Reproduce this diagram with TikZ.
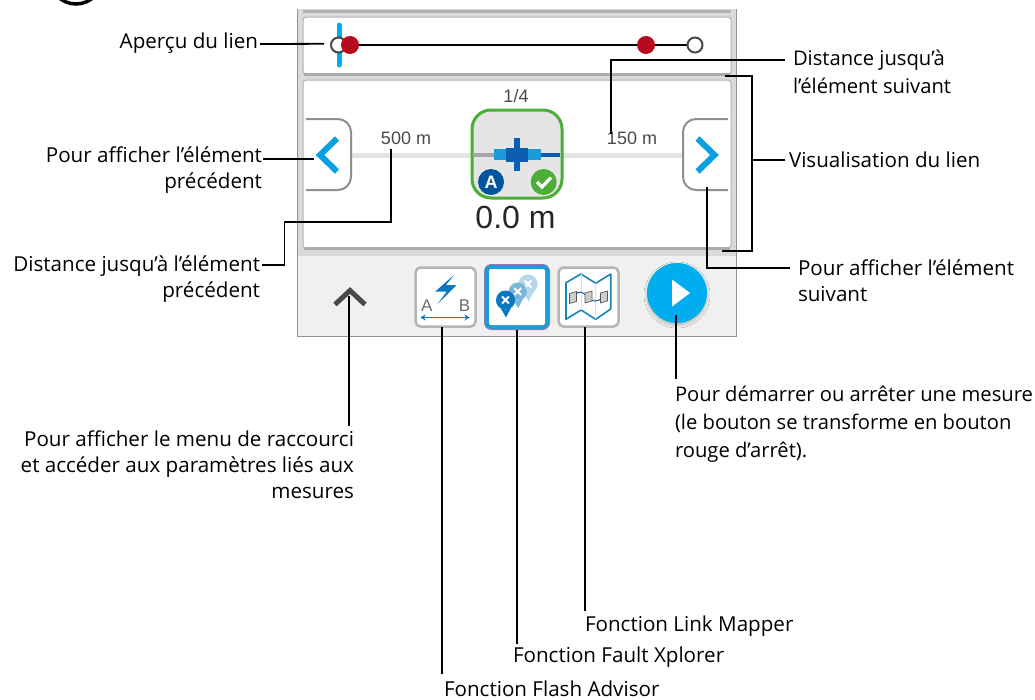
\documentclass[tikz,border=0pt]{standalone}
\usepackage{fontspec}
\setmainfont{Open Sans}
\newfontfamily\uifont{Liberation Sans}
\usetikzlibrary{calc,arrows.meta,shadows.blur}
\definecolor{uiblue}{HTML}{0A9FE0}
\definecolor{playblue}{HTML}{00AEEF}
\definecolor{cardedge}{HTML}{B0B0B0}
\definecolor{panelgray}{HTML}{DADADA}
\definecolor{barback}{HTML}{F0F0F0}
\definecolor{iconedge}{HTML}{B5B5B5}
\definecolor{stopred}{HTML}{B80A1E}
\definecolor{okgreen}{HTML}{4CAD37}
\definecolor{deepblue}{HTML}{00559C}
\definecolor{midblue}{HTML}{0A78BE}
\definecolor{cableblue}{HTML}{0B5FAE}
\definecolor{lightblue}{HTML}{1B9BDB}
\definecolor{darkgray}{HTML}{4A4A4A}
\definecolor{navedge}{HTML}{8F8F8F}
\tikzset{
  leader/.style={draw=black,line width=1.8pt,line join=miter},
  lab/.style={font=\fontsize{20.6}{26}\selectfont,text=black,inner sep=0pt,outer sep=0pt},
  labwide/.style={font=\fontsize{20.2}{28}\selectfont,text=black,inner sep=0pt,outer sep=0pt},
  card/.style={draw=cardedge,line width=1pt,fill=white,rounded corners=3pt},
  toolbtn/.style={draw=iconedge,line width=2.5pt,fill=white,rounded corners=5pt,minimum width=60pt,minimum height=59pt,inner sep=0pt},
  navbtn/.style={draw=navedge,line width=2pt},
  chevron/.style={draw=uiblue,line width=6pt,line cap=butt,line join=miter},
  dist/.style={font=\uifont\fontsize{18}{20}\selectfont,text=darkgray,inner sep=0pt},
  cross/.style={draw=white,line width=2pt,line cap=butt},
}
\newcommand{\pinat}[4]{% x y radius colour
  \fill[#4] (#1-#3,#2) arc[start angle=180,end angle=0,radius=#3] -- (#1+0.5,#2+#3*1.85) -- cycle;
  \fill[#4] (#1,#2) circle[radius=#3];
  \draw[cross] (#1-3.4,#2-3.4) -- (#1+3.4,#2+3.4) (#1-3.4,#2+3.4) -- (#1+3.4,#2-3.4);
}
\begin{document}
\begin{tikzpicture}[x=1pt,y=-1pt]
\useasboundingbox (0,0) rectangle (1035,699);
\begin{scope}
\clip (0,0) rectangle (1035,699);
\draw[black,line width=3.5pt] (76,-22) circle[radius=26];
\end{scope}

% panel
\fill[panelgray] (298,9) rectangle (736,256);
\fill[barback] (298,256) rectangle (736,336);
\draw[gray!85,line width=1pt] (297.5,9) -- (297.5,336) -- (736.5,336) -- (736.5,9);
\fill[cardedge] (303,10) rectangle (731,13);
\draw[card] (303,17) rectangle (731,74);
\draw[card] (303,80) rectangle (731,248);
\draw[gray!65,line width=2.5pt] (304,74.5) -- (730,74.5) (304,248.5) -- (730,248.5);

% link preview
\draw[playblue,line width=5pt,line cap=round] (339,25) -- (339,65);
\draw[black,line width=2.2pt] (350,45.3) -- (688,45.3);
\node[circle,draw=darkgray,fill=white,line width=2pt,minimum size=15pt,inner sep=0pt] (startring) at (338.5,45) {};
\node[circle,draw=darkgray,fill=white,line width=2pt,minimum size=15pt,inner sep=0pt] (endring) at (695,45) {};
\fill[stopred] (350,45) circle[radius=9];
\fill[stopred] (646,45) circle[radius=9];
\coordinate (previewpt) at (324,43.8);

% link view
\node[dist] (pager) at (516,96) {1/4};
\draw[gray!22,line width=5pt] (351,155) -- (683,155);
\draw[navbtn,fill=white] (306,119) -- (338,119) arc[start angle=-90,end angle=0,radius=13] -- (351,177) arc[start angle=0,end angle=90,radius=13] -- (306,190);
\draw[navbtn,fill=white] (728,119) -- (696,119) arc[start angle=-90,end angle=-180,radius=13] -- (683,177) arc[start angle=180,end angle=90,radius=13] -- (728,190);
\draw[chevron] (337,138.5) -- (320,155) -- (337,171.5);
\draw[chevron] (697.5,138.5) -- (714.5,155) -- (697.5,171.5);
\node[dist] (dprev) at (406,138) {500 m};
\node[dist] (dnext) at (632,138) {150 m};
\draw[okgreen,line width=3pt,fill=gray!20,rounded corners=19pt] (472,110) rectangle (562,198);
\draw[gray!70,line width=3.5pt] (474,155) -- (494,155);
\draw[cableblue,line width=4pt] (540,155) -- (559.5,155);
\fill[lightblue] (494,148.5) rectangle (541,160);
\fill[cableblue] (506,147.5) rectangle (528,161.5);
\fill[cableblue] (514.3,138) rectangle (520,171);
\node[circle,fill=deepblue,text=white,minimum size=26pt,inner sep=0pt,font=\uifont\bfseries\fontsize{18}{18}\selectfont] (abadge) at (491,182) {A};
\node[circle,fill=okgreen,minimum size=26pt,inner sep=0pt] (okbadge) at (543.7,182) {};
\draw[white,line width=3.2pt] (537,182) -- (542,187) -- (551,177.5);
\node[font=\uifont\fontsize{32}{34}\selectfont,text=black!85,inner sep=0pt] (dist0) at (515.5,217) {0.0 m};

% toolbar
\draw[darkgray,line width=5pt] (335,304.5) -- (350,290.5) -- (365,304.5);
\coordinate (chevup) at (349,296);

\node[toolbtn] (flashbtn) at (445.5,297) {};
\fill[midblue] (454,275) -- (435,291.7) -- (446.7,291.7) -- (437.5,304) -- (456.7,285) -- (446,285) -- cycle;
\node[inner sep=0pt,text=darkgray!80,font=\uifont\fontsize{17}{18}\selectfont] (aletter) at (426.7,306) {A};
\node[inner sep=0pt,text=darkgray!80,font=\uifont\fontsize{17}{18}\selectfont] (bletter) at (464.5,306) {B};
\draw[{Stealth[length=5pt,width=6pt]}-{Stealth[length=5pt,width=6pt]},midblue,line width=1.5pt] (420.5,317.5) -- (469.5,317.5);

\node[draw=black!65!blue!50,line width=1pt,fill=lightblue,rounded corners=7pt,minimum width=65pt,minimum height=65pt,inner sep=0pt] (faultbtn) at (517,297) {};
\fill[white,rounded corners=2pt] (489,269) rectangle (545,325);
\pinat{528}{284}{9.5}{midblue!30}
\pinat{517.7}{291.5}{9}{midblue!55}
\pinat{505.5}{300}{9.5}{midblue}

\node[toolbtn] (mapbtn) at (588.5,297) {};
\draw[lightblue!85!black,line width=1.6pt,line join=round] (566,282.7) -- (581,274) -- (595.7,283.3) -- (610.7,274) -- (610.7,309) -- (595.7,319.3) -- (581,310) -- (566,319.3) -- cycle;
\draw[lightblue!25,line width=1pt] (581,274) -- (581,310) (595.7,283.3) -- (595.7,319.3);
\draw[cableblue,line width=1pt] (573,297) .. controls (580,288) and (583,293) .. (588,297) .. controls (593,303) and (597,302) .. (604,297);
\foreach \nx/\ny in {573/297.5,588.5/297,604/297}{
  \draw[gray!70!black,fill=gray!40,line width=.7pt] (\nx-3.5,\ny-4) -- (\nx+3.5,\ny-6) -- (\nx+3.5,\ny+4) -- (\nx-3.5,\ny+6) -- cycle;
}
\node[circle,fill=playblue,minimum size=60pt,inner sep=0pt,blur shadow={shadow blur steps=8,shadow xshift=0pt,shadow yshift=-2pt,shadow opacity=25,shadow blur radius=3pt}] (playbtn) at (677,293) {};
\fill[white] (672,279.5) -- (690,293) -- (672,306.5) -- cycle;

% labels
\node[lab,anchor=base east] (lapercu) at (258,48) {Aperçu du lien};
\node[lab,anchor=north east,align=right] (lprev) at (262,147) {Pour afficher l’élément\\précédent};
\node[lab,anchor=north east,align=right] (ldprev) at (260,256) {Distance jusqu’à l’élément\\précédent};
\node[labwide,anchor=north west,align=left] (ldnext) at (793,50) {Distance jusqu’à\\l’élément suivant};
\node[lab,anchor=base west] (lview) at (789,167) {Visualisation du lien};
\node[lab,anchor=north west,align=left] (lnext) at (798,260) {Pour afficher l’élément\\suivant};
\node[labwide,anchor=north west,align=left] (lplay) at (675,386) {Pour démarrer ou arrêter une mesure\\(le bouton se transforme en bouton\\rouge d’arrêt).};
\node[lab,anchor=north east,align=right] (lmenu) at (354,431) {Pour afficher le menu de raccourci\\et accéder aux paramètres liés aux\\mesures};
\node[lab,anchor=base west] (lmapper) at (585,631) {Fonction Link Mapper};
\node[lab,anchor=base west] (lfault) at (513,662) {Fonction Fault Xplorer};
\node[lab,anchor=base west] (lflash) at (444,696) {Fonction Flash Advisor};

% named connector ends
\coordinate (prevtip) at (314,159);
\coordinate (prevout) at (263,159);
\coordinate (dprevout) at (262,265);
\coordinate (dnextout) at (785,60);
\coordinate (nextout) at (790,268);
\coordinate (viewtop) at (725,76);
\coordinate (viewbot) at (722,251);
\coordinate (viewcorner) at (752,76);

% connectors
\draw[leader] (260,44) -- (previewpt);
\draw[leader] (prevout) -- (prevtip);
\draw[leader] (dprevout) -- (284.5,265) -- (284.5,222) -- (391,222) -- (391,149);
\draw[leader] (dnextout) -- (611,60) -- (611,134);
\draw[leader] (viewtop) -- (viewcorner) -- (viewcorner|-viewbot) -- (viewbot);
\draw[leader] (785,160) -- (752,160);
\draw[leader] (nextout) -- (707,268) -- (707,187);
\draw[leader] (349,426) -- (chevup);
\draw[leader] (442,327) -- (442,674);
\draw[leader] (faultbtn.south) -- (517,644);
\draw[leader] (585,327) -- (585,611);
\draw[leader] (676,379) -- (676,315);
\end{tikzpicture}
\end{document}
